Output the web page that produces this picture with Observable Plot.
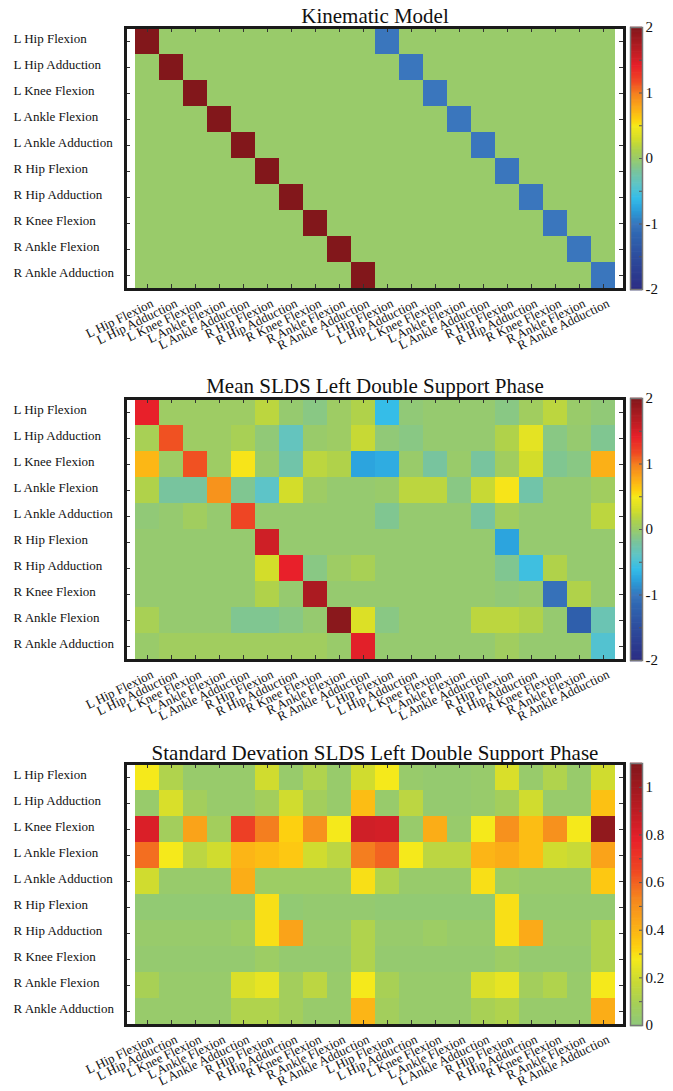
<!DOCTYPE html>
<html><head><meta charset="utf-8">
<script src="https://cdn.jsdelivr.net/npm/d3@7"></script>
<script src="https://cdn.jsdelivr.net/npm/@observablehq/plot@0.6"></script>
<style>
body{margin:0;background:#fff;}
#root{position:relative;width:673px;height:1091px;overflow:hidden;}
#root svg{position:absolute;}
</style></head><body><div id="root"></div>
<script>
const rowLabels = ["L Hip Flexion","L Hip Adduction","L Knee Flexion","L Ankle Flexion","L Ankle Adduction",
  "R Hip Flexion","R Hip Adduction","R Knee Flexion","R Ankle Flexion","R Ankle Adduction"];
const colLabels = [...rowLabels, ...rowLabels];

const titles = ["Kinematic Model","Mean SLDS Left Double Support Phase","Standard Devation SLDS Left Double Support Phase"];

const kinematic = [
  [2,0,0,0,0,0,0,0,0,0,-1,0,0,0,0,0,0,0,0,0],
  [0,2,0,0,0,0,0,0,0,0,0,-1,0,0,0,0,0,0,0,0],
  [0,0,2,0,0,0,0,0,0,0,0,0,-1,0,0,0,0,0,0,0],
  [0,0,0,2,0,0,0,0,0,0,0,0,0,-1,0,0,0,0,0,0],
  [0,0,0,0,2,0,0,0,0,0,0,0,0,0,-1,0,0,0,0,0],
  [0,0,0,0,0,2,0,0,0,0,0,0,0,0,0,-1,0,0,0,0],
  [0,0,0,0,0,0,2,0,0,0,0,0,0,0,0,0,-1,0,0,0],
  [0,0,0,0,0,0,0,2,0,0,0,0,0,0,0,0,0,-1,0,0],
  [0,0,0,0,0,0,0,0,2,0,0,0,0,0,0,0,0,0,-1,0],
  [0,0,0,0,0,0,0,0,0,2,0,0,0,0,0,0,0,0,0,-1]
];

const meanSLDS = [
  [1.42,0.03,0.03,0.03,0.03,0.2,-0.02,-0.1,0.03,0.15,-0.6,-0.05,-0.02,-0.02,-0.02,-0.1,0.05,0.2,0,-0.05],
  [0.1,1.15,0.03,0.03,0.1,-0.05,-0.35,0,0.03,0.25,-0.05,-0.1,-0.02,-0.02,-0.02,0.15,0.4,-0.1,-0.02,-0.15],
  [0.72,0.03,1.15,0.03,0.52,0,-0.25,0.2,0.15,-0.75,-0.7,0,-0.2,0,-0.2,0.05,0.3,-0.15,-0.1,0.75],
  [0.15,-0.2,-0.2,0.9,-0.15,-0.4,0.3,0.03,-0.02,-0.02,0,0.2,0.2,-0.1,0.25,0.52,-0.25,-0.02,-0.02,0.05],
  [-0.05,-0.02,0.05,-0.02,1.2,-0.02,-0.02,-0.02,-0.02,-0.02,-0.15,-0.02,-0.02,-0.02,-0.2,0.05,-0.02,-0.02,-0.02,0.2],
  [-0.02,-0.02,-0.02,-0.02,-0.02,1.55,-0.02,-0.02,-0.02,-0.02,-0.02,-0.02,-0.02,-0.02,-0.02,-0.75,-0.02,-0.02,-0.02,-0.02],
  [-0.02,-0.02,-0.02,-0.02,-0.02,0.3,1.42,-0.1,0.03,0.1,-0.02,-0.02,-0.02,-0.02,-0.02,-0.15,-0.55,0.15,-0.02,-0.02],
  [-0.02,-0.02,-0.02,-0.02,-0.02,0.15,-0.02,1.75,-0.02,-0.02,-0.02,-0.02,-0.02,-0.02,-0.02,-0.05,-0.02,-1.05,0.15,-0.02],
  [0.1,-0.02,-0.02,-0.02,-0.15,-0.15,-0.1,-0.02,1.95,0.35,-0.1,-0.02,-0.02,-0.02,0.2,0.2,0.15,-0.02,-1.25,-0.3],
  [0,0.05,0.05,0.05,0.05,0.05,0.05,0.05,0,1.45,-0.02,-0.02,-0.02,-0.02,-0.02,0.05,-0.02,-0.02,-0.02,-0.45]
];

const stdSLDS = [
  [0.28,0.12,0.04,0.04,0.04,0.2,0.04,0.12,0.04,0.2,0.28,0.04,0.03,0.03,0.04,0.22,0.04,0.12,0.04,0.2],
  [0.04,0.22,0.08,0.04,0.04,0.08,0.2,0.08,0.04,0.38,0.04,0.15,0.03,0.03,0.04,0.08,0.2,0.04,0.04,0.37],
  [0.82,0.08,0.45,0.08,0.68,0.55,0.33,0.5,0.28,0.85,0.84,0.04,0.42,0.04,0.28,0.5,0.38,0.5,0.28,1.05],
  [0.58,0.28,0.15,0.2,0.4,0.38,0.35,0.2,0.15,0.55,0.6,0.28,0.15,0.15,0.4,0.42,0.38,0.2,0.18,0.45],
  [0.2,0.04,0.04,0.04,0.42,0.06,0.06,0.06,0.06,0.3,0.12,0.04,0.04,0.04,0.3,0.06,0.04,0.04,0.04,0.35],
  [0.02,0.02,0.02,0.02,0.02,0.3,0.02,0.03,0.03,0.03,0.02,0.02,0.02,0.02,0.02,0.3,0.03,0.03,0.03,0.03],
  [0.04,0.04,0.04,0.04,0.06,0.3,0.45,0.04,0.04,0.12,0.04,0.04,0.06,0.04,0.04,0.3,0.43,0.04,0.04,0.12],
  [0.03,0.03,0.03,0.03,0.03,0.06,0.03,0.03,0.03,0.12,0.03,0.03,0.03,0.03,0.03,0.06,0.03,0.03,0.03,0.12],
  [0.1,0.04,0.04,0.04,0.22,0.25,0.08,0.15,0.04,0.28,0.1,0.04,0.04,0.04,0.22,0.25,0.08,0.12,0.04,0.28],
  [0.04,0.04,0.04,0.04,0.12,0.12,0.08,0.04,0.04,0.4,0.08,0.04,0.04,0.04,0.1,0.12,0.04,0.04,0.04,0.42]
];

const signedTicks = [-2,-1,0,1,2];
const signedMinorTicks = [-2,-1.5,-1,-0.5,0,0.5,1,1.5,2];
const stdTicks = [0,0.2,0.4,0.6,0.8,1];
const stdMinorTicks = [0,0.1,0.2,0.3,0.4,0.5,0.6,0.7,0.8,0.9,1.0];

// colormap stops (fraction of extreme)
const posStops = [[0,"#99cb6a"],[0.075,"#b0d24a"],[0.15,"#d3dd2a"],[0.25,"#f5e91b"],[0.3,"#fdd010"],
  [0.39,"#fbaa18"],[0.49,"#f5841f"],[0.59,"#ef4823"],[0.71,"#e8202a"],[0.8,"#c41e25"],[1,"#82171b"]];
const negStops = [[0,"#99cb6a"],[0.1,"#78c49e"],[0.2,"#5dc4c8"],[0.3,"#35bde8"],[0.38,"#2ba2dd"],
  [0.46,"#2f84c6"],[0.5,"#3a76bd"],[0.56,"#3069b3"],[0.74,"#2e4e9f"],[1,"#2b2c83"]];
const stdStops = [[0,"#8dc87a"],[0.09,"#a8d055"],[0.18,"#cfdc30"],[0.255,"#f5e91b"],[0.3,"#fdd010"],
  [0.39,"#fbaa18"],[0.49,"#f5841f"],[0.59,"#ef4823"],[0.71,"#e8202a"],[0.8,"#c41e25"],[1,"#82171b"]];

const signedColor = {
  type: "linear", clamp: true,
  domain: [...negStops.slice(1).reverse().map(s => -2 * s[0]), ...posStops.map(s => 2 * s[0])],
  range: [...negStops.slice(1).reverse().map(s => s[1]), ...posStops.map(s => s[1])]
};
const stdColor = {
  type: "linear", clamp: true,
  domain: stdStops.map(s => 1.1 * s[0]),
  range: stdStops.map(s => s[1])
};

const FONT = '"Liberation Serif","Times New Roman",serif';

const panels = [
  {title: titles[0], matrix: kinematic, color: signedColor, cdomain: [-2, 2], ticks: signedTicks, minor: signedMinorTicks, top: 0, h: 360, mt: 27, tdy: -11},
  {title: titles[1], matrix: meanSLDS, color: signedColor, cdomain: [-2, 2], ticks: signedTicks, minor: signedMinorTicks, top: 370, h: 360, mt: 28, tdy: -12},
  {title: titles[2], matrix: stdSLDS, color: stdColor, cdomain: [0, 1.1], ticks: stdTicks, minor: stdMinorTicks, top: 735, h: 356, mt: 28, tdy: -10}
];
const PH = 262, PW = 499, TK = 5;

const root = document.getElementById("root");

for (const p of panels) {
  const cells = [];
  p.matrix.forEach((row, r) => row.forEach((v, c) => cells.push({r, c, v})));
  const cols = d3.range(colLabels.length), rows = d3.range(rowLabels.length);
  const heat = Plot.plot({
    width: 673, height: p.h,
    marginLeft: 125, marginRight: 673 - 125 - PW, marginTop: p.mt, marginBottom: p.h - p.mt - PH,
    style: {fontFamily: FONT, fontSize: "13px", color: "#111", background: "transparent"},
    x: {type: "band", domain: cols, padding: 0},
    y: {type: "band", domain: rows, padding: 0, axis: null},
    color: p.color,
    marks: [
      Plot.cell(cells, {x: "c", y: "r", fill: "v"}),
      Plot.axisX({anchor: "bottom", tickSize: 0, tickPadding: 13, tickRotate: -26, dx: 5,
        tickFormat: i => colLabels[i], fontSize: 13, fontFamily: FONT, label: null, fill: "#111"}),
      Plot.tickX(cols, {x: d => d, insetTop: PH - TK, stroke: "#333"}),
      Plot.tickX(cols, {x: d => d, insetBottom: PH - TK, stroke: "#333"}),
      Plot.tickY(rows, {y: d => d, insetRight: PW - TK, stroke: "#333"}),
      Plot.tickY(rows, {y: d => d, insetLeft: PW - TK, stroke: "#333"}),
      Plot.text(rowLabels, {y: (d, i) => i, frameAnchor: "left", dx: -112, dy: -2.5, textAnchor: "start",
        fontSize: 13, fontFamily: FONT, fill: "#111"}),
      Plot.frame({stroke: "#1a1a1a", strokeWidth: 3}),
      Plot.text([p.title], {frameAnchor: "top", lineAnchor: "middle", dy: p.tdy, fontSize: 21, fontFamily: FONT, fill: "#111"})
    ]
  });
  heat.style.left = "0px";
  heat.style.top = p.top + "px";
  root.appendChild(heat);

  const [c0, c1] = p.cdomain;
  const n = 300;
  const grad = d3.range(n + 1).map(k => c0 + (c1 - c0) * k / n);
  const bar = Plot.plot({
    width: 53, height: p.h,
    marginLeft: 10, marginRight: 31, marginTop: p.mt, marginBottom: p.h - p.mt - PH,
    style: {fontFamily: FONT, fontSize: "15px", color: "#111", background: "transparent"},
    x: {domain: [0, 1], axis: null},
    y: {domain: p.cdomain, axis: null},
    color: p.color,
    marks: [
      Plot.ruleY(grad, {y: d => d, stroke: d => d, strokeWidth: 1.6}),
      Plot.tickY(p.minor, {y: d => d, insetLeft: 9, stroke: "#555"}),
      Plot.axisY({anchor: "right", ticks: p.ticks, tickSize: 0, tickPadding: 3, label: null,
        tickFormat: d => String(d), fontSize: 15, fontFamily: FONT, fill: "#111"}),
      Plot.frame({stroke: "#777", strokeWidth: 1.5})
    ]
  });
  bar.style.left = "620px";
  bar.style.top = p.top + "px";
  root.appendChild(bar);
}
</script>
</body></html>
